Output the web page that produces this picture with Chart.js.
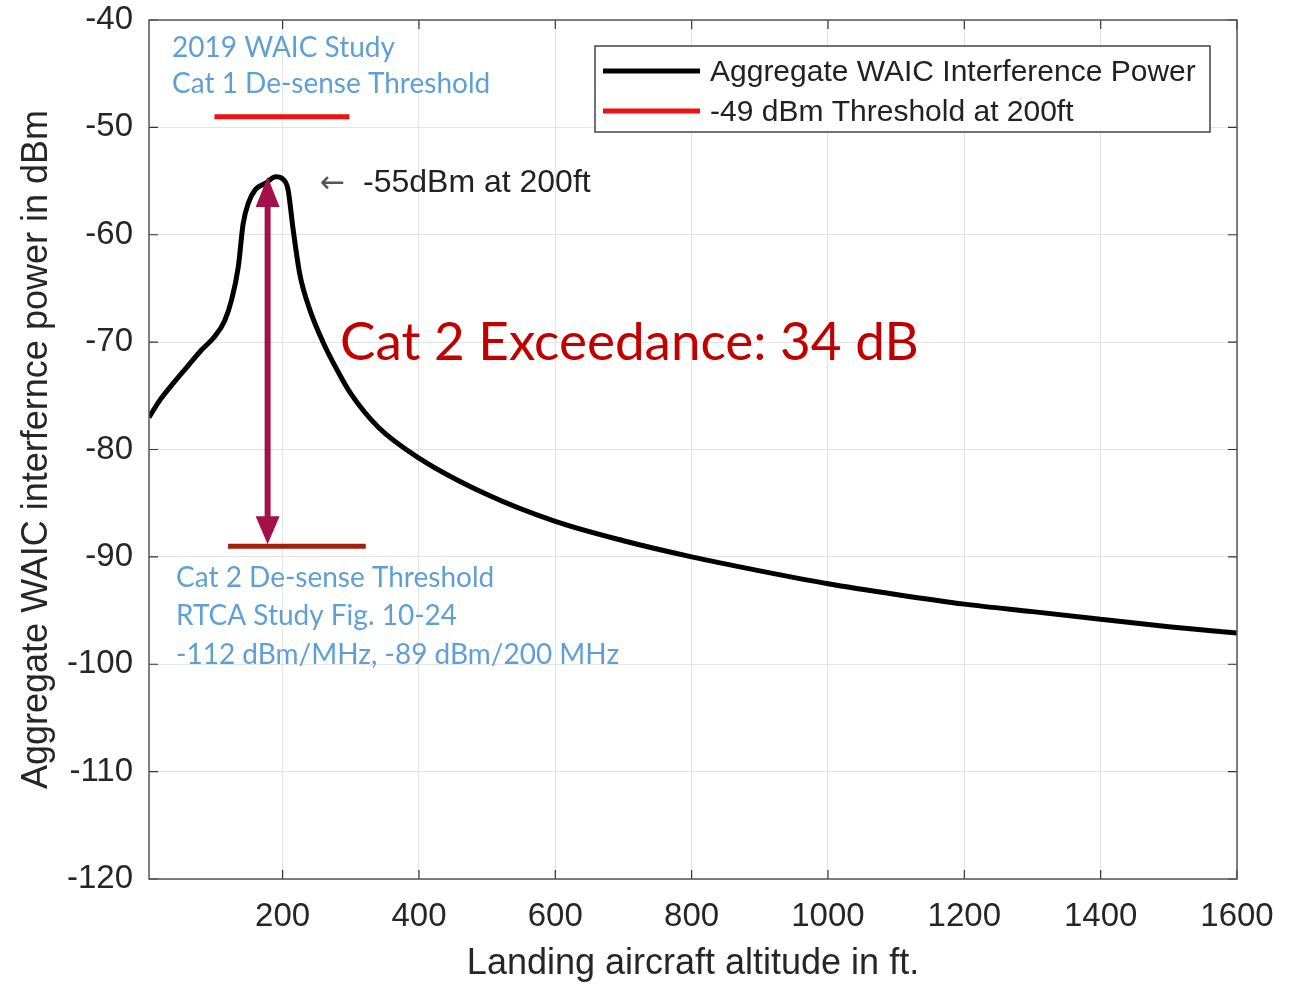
<!DOCTYPE html>
<html>
<head>
<meta charset="utf-8">
<script src="https://cdn.jsdelivr.net/npm/chart.js@4/dist/chart.umd.min.js"></script>
<style>
  html, body { margin: 0; padding: 0; background: #fff; }
  #wrap { width: 1298px; height: 986px; }
</style>
</head>
<body>
<div id="wrap"><canvas id="waicChart" width="1298" height="986"></canvas></div>
<script>
// altitude (ft) and aggregate interference power (dBm)
const altitude = [4, 20, 40, 60, 80, 100, 115, 125, 135, 142, 150, 160, 175, 190, 200, 208, 215, 225, 240, 260, 280, 300, 340, 400, 500, 600, 700, 800, 900, 1000, 1100, 1200, 1300, 1400, 1500, 1600];
const powerDbm = [-77.0, -75.4, -73.8, -72.3, -70.8, -69.5, -68.0, -66.1, -63.0, -59.0, -57.0, -55.8, -55.2, -54.6, -54.8, -55.8, -59.3, -63.6, -67.0, -70.1, -72.6, -74.8, -77.9, -80.8, -84.2, -86.7, -88.5, -90.0, -91.3, -92.5, -93.5, -94.4, -95.1, -95.8, -96.5, -97.1];

// threshold markers
const cat1Alt = [100, 298];
const cat1Level = -49;
const cat2Alt = [120, 322];
const cat2Level = -89;
const exceedAlt = 178;
const peakLevel = -55;

const xTicks = [200, 400, 600, 800, 1000, 1200, 1400, 1600];
const yTicks = [-120, -110, -100, -90, -80, -70, -60, -50, -40];

const seriesNames = ['Aggregate WAIC Interference Power', '-49 dBm Threshold at 200ft'];

const curvePoints = altitude.map((a, i) => ({ x: a, y: powerDbm[i] }));

const blue = '#5f9fd6';
const tickFont = { family: 'Liberation Sans, Arial, sans-serif', size: 33 };
const titleFont = { family: 'Liberation Sans, Arial, sans-serif', size: 36 };

const overlayPlugin = {
    id: 'overlay',
    afterDraw(chart) {
        const ctx = chart.ctx;
        const area = chart.chartArea;
        const xs = chart.scales.x;
        const ys = chart.scales.y;
        ctx.save();

        // inner tick marks on all four sides
        ctx.strokeStyle = '#333';
        ctx.lineWidth = 1.2;
        xTicks.forEach(v => {
            const px = xs.getPixelForValue(v);
            ctx.beginPath();
            ctx.moveTo(px, area.bottom); ctx.lineTo(px, area.bottom - 9);
            ctx.moveTo(px, area.top); ctx.lineTo(px, area.top + 9);
            ctx.stroke();
        });
        yTicks.forEach(v => {
            const py = ys.getPixelForValue(v);
            ctx.beginPath();
            ctx.moveTo(area.left, py); ctx.lineTo(area.left + 9, py);
            ctx.moveTo(area.right, py); ctx.lineTo(area.right - 9, py);
            ctx.stroke();
        });

        // frame
        ctx.strokeStyle = '#555';
        ctx.lineWidth = 1.5;
        ctx.strokeRect(area.left, area.top, area.right - area.left, area.bottom - area.top);

        // double arrow for the exceedance
        const ax = xs.getPixelForValue(exceedAlt);
        const yTop = ys.getPixelForValue(peakLevel);
        const yBot = ys.getPixelForValue(cat2Level);
        ctx.strokeStyle = '#a3104a';
        ctx.fillStyle = '#a3104a';
        ctx.lineWidth = 6;
        ctx.beginPath();
        ctx.moveTo(ax, yTop + 20); ctx.lineTo(ax, yBot - 20);
        ctx.stroke();
        ctx.beginPath();
        ctx.moveTo(ax, yTop - 4); ctx.lineTo(ax - 12, yTop + 26); ctx.lineTo(ax + 12, yTop + 26);
        ctx.closePath(); ctx.fill();
        ctx.beginPath();
        ctx.moveTo(ax, yBot - 2); ctx.lineTo(ax - 12, yBot - 30); ctx.lineTo(ax + 12, yBot - 30);
        ctx.closePath(); ctx.fill();

        // annotation texts
        ctx.textBaseline = 'middle';
        ctx.textAlign = 'left';
        ctx.fillStyle = blue;
        ctx.font = '28px Lato, "Open Sans", sans-serif';
        ctx.fillText('2019 WAIC Study', 172, 48);
        ctx.fillText('Cat 1 De-sense Threshold', 172, 84);
        ctx.fillText('Cat 2 De-sense Threshold', 176, 578);
        ctx.fillText('RTCA Study Fig. 10-24', 176, 616);
        ctx.fillText('-112 dBm/MHz, -89 dBm/200 MHz', 176, 655);

        ctx.fillStyle = '#555';
        ctx.font = '30px "DejaVu Sans", sans-serif';
        ctx.fillText('\u2190', 320, 184);
        ctx.fillStyle = '#222';
        ctx.font = '32px "Liberation Sans", Arial, sans-serif';
        ctx.fillText('-55dBm at 200ft', 363, 183);

        ctx.fillStyle = '#c00000';
        ctx.font = '53px Lato, "Open Sans", sans-serif';
        ctx.fillText('Cat 2 Exceedance: 34 dB', 340, 343);

        // legend box
        ctx.fillStyle = '#fff';
        ctx.fillRect(595, 46, 615, 86);
        ctx.strokeStyle = '#444';
        ctx.lineWidth = 1.5;
        ctx.strokeRect(595, 46, 615, 86);
        const colors = ['#000', '#ee1111'];
        const rows = [71, 111];
        ctx.font = '30px "Liberation Sans", Arial, sans-serif';
        seriesNames.forEach((name, i) => {
            ctx.strokeStyle = colors[i];
            ctx.lineWidth = 5;
            ctx.beginPath();
            ctx.moveTo(603, rows[i]); ctx.lineTo(700, rows[i]);
            ctx.stroke();
            ctx.fillStyle = '#222';
            ctx.fillText(name, 710, rows[i] + 2);
        });

        ctx.restore();
    }
};

const ctx = document.getElementById('waicChart').getContext('2d');
const waicChart = new Chart(ctx, {
    type: 'line',
    data: {
        datasets: [{
            label: seriesNames[0],
            data: curvePoints,
            borderColor: '#000',
            borderWidth: 5,
            pointRadius: 0,
            cubicInterpolationMode: 'monotone',
            fill: false
        }, {
            label: seriesNames[1],
            data: cat1Alt.map(a => ({ x: a, y: cat1Level })),
            borderColor: '#ee1111',
            borderWidth: 5,
            pointRadius: 0
        }, {
            label: 'Cat 2 threshold',
            data: cat2Alt.map(a => ({ x: a, y: cat2Level })),
            borderColor: '#a3200f',
            borderWidth: 5,
            pointRadius: 0
        }]
    },
    options: {
        responsive: false,
        animation: false,
        layout: { padding: { top: 20, right: 61, left: 0, bottom: 0 } },
        plugins: {
            legend: { display: false },
            tooltip: { enabled: false }
        },
        scales: {
            x: {
                type: 'linear',
                min: 4,
                max: 1600,
                afterBuildTicks: scale => { scale.ticks = xTicks.map(v => ({ value: v })); },
                afterFit: scale => {
                    scale.height = 107;
                    scale.paddingLeft = 0;
                    scale.paddingRight = 0;
                },
                grid: { color: '#e4e4e4', drawTicks: false },
                border: { display: false },
                ticks: { color: '#262626', font: tickFont, padding: 18, maxRotation: 0, callback: v => String(v) },
                title: {
                    display: true,
                    text: 'Landing aircraft altitude in ft.',
                    color: '#262626',
                    font: titleFont,
                    padding: { top: 0, bottom: 0 }
                }
            },
            y: {
                type: 'linear',
                min: -120,
                max: -40,
                afterBuildTicks: scale => { scale.ticks = yTicks.map(v => ({ value: v })); },
                afterFit: scale => {
                    scale.width = 149;
                    scale.paddingTop = 0;
                    scale.paddingBottom = 0;
                },
                grid: { color: '#e4e4e4', drawTicks: false },
                border: { display: false },
                ticks: { color: '#262626', font: tickFont, padding: 16, callback: v => String(v) },
                title: {
                    display: true,
                    text: 'Aggregate WAIC interfernce power in dBm',
                    color: '#262626',
                    font: titleFont,
                    padding: { top: 15, bottom: 0 }
                }
            }
        }
    },
    plugins: [overlayPlugin]
});
</script>
</body>
</html>
